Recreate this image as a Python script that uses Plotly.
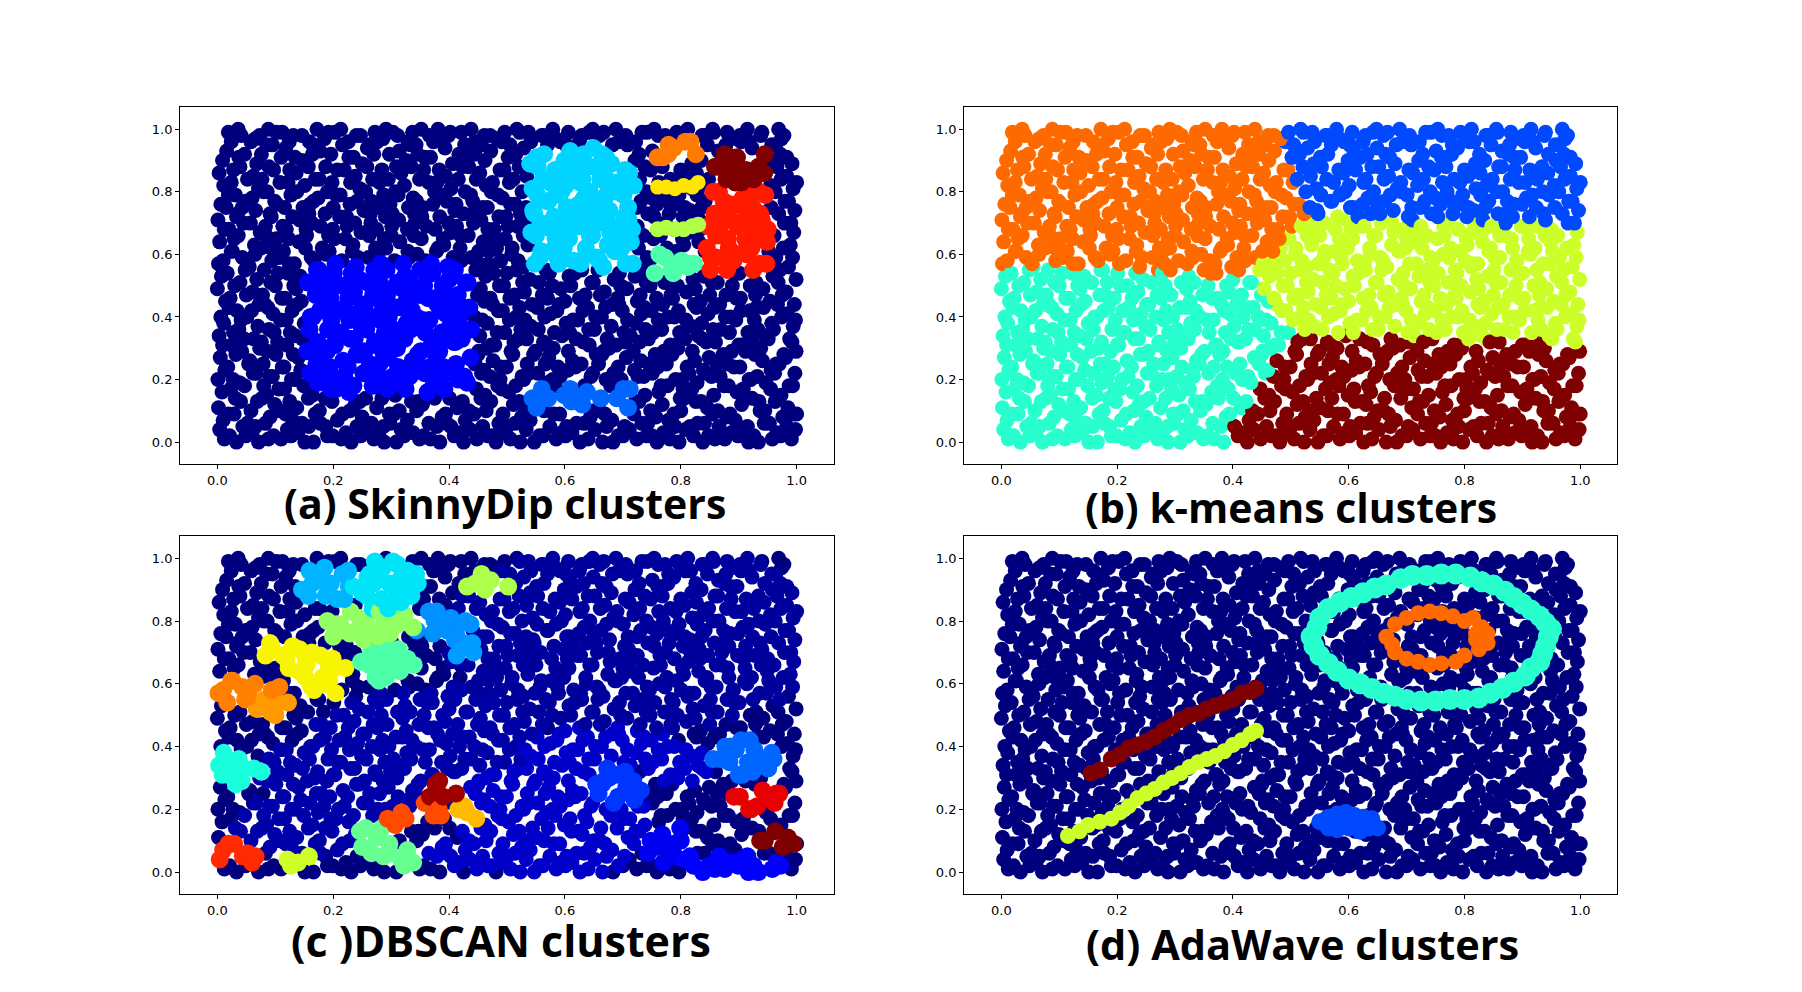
import plotly.graph_objects as go

# shared sample, x in thousandths and y in hundredths, one list per row
x_rows = [
    [12,33,49,71,88,110,127,151,166,190,214,231,247,270,288,309,322,349,368,384,409,425,448,467,481,506,523,547,562,585,601,626,640,665,683,700,724,741,759,781,797,822,838,859,876,899,917,934,958,972,991],
    [4,21,44,60,83,97,121,139,158,178,199,222,241,258,279,298,317,338,356,379,396,417,436,458,474,495,514,533,556,574,594,612,633,652,672,692,711,733,750,770,790,808,829,848,866,887,907,926,944,966,983,998],
    [10,29,52,66,91,108,130,146,169,187,207,229,250,266,287,305,328,344,365,388,403,428,443,464,486,501,525,540,564,581,603,620,644,660,681,703,719,743,757,779,800,816,841,855,879,894,915,937,953,976,995],
    [2,19,40,58,77,99,118,137,157,176,198,216,238,256,275,297,314,335,354,375,394,414,434,455,472,493,511,532,551,571,591,611,630,650,669,690,709,728,748,768,788,806,826,846,864,885,905,923,945,963,985,1000],
    [8,31,47,69,85,106,125,149,164,186,205,227,246,268,284,307,325,347,363,386,401,423,447,462,484,503,521,544,560,583,599,623,638,662,679,701,722,738,762,777,799,819,835,857,875,897,913,935,955,973,993],
    [1,23,38,62,80,95,116,134,160,174,196,219,235,259,277,294,318,332,358,373,392,416,431,456,470,491,515,529,553,568,592,609,634,648,671,687,712,726,751,766,791,804,828,843,868,882,908,921,947,962,987],
    [13,27,54,67,90,112,128,144,171,184,209,225,252,263,290,303,330,342,367,382,405,426,445,460,488,499,526,538,566,579,605,618,645,658,684,697,720,736,760,775,802,814,839,853,881,892,918,932,956,970,997],
    [5,18,42,56,79,101,115,140,155,179,194,217,240,254,280,295,312,337,351,377,390,412,437,451,476,490,510,535,549,572,588,613,628,654,667,692,706,731,745,771,785,811,824,849,862,888,902,928,941,965,981,999],
    [9,32,46,73,86,104,131,147,168,189,203,230,244,272,286,310,323,346,370,383,408,422,450,465,479,507,520,546,563,580,606,619,642,664,676,704,718,744,756,782,795,820,837,860,873,900,912,938,951,978,992],
    [3,25,37,63,76,98,120,135,159,173,200,213,237,257,274,299,316,334,359,372,397,411,438,453,473,496,512,534,554,569,595,608,632,651,673,688,713,729,752,767,792,807,830,844,869,884,906,924,946,960,988],
    [11,28,51,70,89,109,126,150,165,191,208,228,249,267,289,304,327,343,366,387,402,427,444,466,483,504,524,541,565,582,602,622,641,663,680,702,723,739,761,778,798,818,836,856,877,895,916,933,957,974,994],
    [6,20,41,59,82,96,119,138,161,177,197,220,242,255,281,296,319,336,355,380,395,418,435,457,475,492,516,531,552,575,590,614,631,653,670,693,708,732,749,769,789,809,827,847,867,886,904,927,943,967,984,998],
    [14,34,50,72,87,111,129,145,170,185,210,226,251,269,285,308,326,348,364,385,406,424,449,461,485,505,522,543,561,586,600,625,639,661,682,699,725,737,758,783,796,823,834,858,878,896,919,931,954,975,996],
    [0,22,39,61,78,100,117,136,156,180,195,218,236,260,276,293,320,333,357,374,393,415,432,454,471,494,513,530,555,570,593,610,635,649,668,691,707,730,747,772,786,810,825,850,863,889,903,929,942,968,982],
    [7,30,48,68,92,105,132,143,172,183,206,232,245,271,283,311,324,350,362,389,400,429,446,463,487,500,527,539,567,578,607,617,646,657,685,696,721,740,755,784,794,821,840,854,880,893,920,930,959,971,999],
    [2,17,43,55,81,94,122,133,162,175,201,215,239,261,278,292,321,331,360,371,398,410,439,452,477,489,517,528,557,573,589,615,629,655,666,694,705,734,746,773,787,812,823,851,861,890,901,925,948,964,986],
    [10,26,53,65,93,107,124,152,167,188,204,233,243,273,282,306,329,345,369,381,407,421,451,468,482,508,519,548,559,587,598,627,637,659,686,698,717,742,763,776,801,815,842,852,883,891,914,936,952,977,993],
    [4,24,36,64,75,102,114,141,154,181,193,221,234,262,279,291,315,339,352,378,391,419,433,459,469,497,509,536,550,576,596,607,636,647,674,689,714,727,753,765,793,805,831,845,870,881,910,922,949,961,989],
    [12,29,45,74,84,113,123,153,163,192,202,224,248,265,288,300,328,341,361,390,404,420,442,467,480,502,528,542,558,584,604,621,643,656,678,700,716,735,764,774,803,813,833,861,871,898,911,939,950,979,995],
    [1,20,35,57,83,93,119,142,158,178,199,223,237,264,275,301,313,340,353,376,399,413,440,455,478,498,518,537,547,577,597,616,627,654,675,695,710,725,754,780,789,817,832,847,872,883,909,928,940,969,990],
    [15,33,49,66,91,103,130,148,166,186,211,229,253,266,290,302,330,344,372,384,410,425,441,466,486,506,523,545,569,581,603,624,638,662,677,703,724,743,759,777,804,816,836,858,874,899,912,937,956,980,997],
    [6,19,43,60,80,99,116,137,160,174,200,212,241,256,277,298,312,338,354,375,396,412,437,458,473,492,514,533,552,571,594,608,633,650,672,691,709,731,750,770,790,807,828,842,866,885,907,924,946,963,986],
    [11,31,52,71,86,108,127,151,169,190,205,230,246,268,287,307,323,349,365,386,403,428,447,464,484,504,526,544,562,585,601,626,643,661,684,701,719,741,762,782,797,820,838,856,879,894,917,935,955,973,994],
    [3,24,39,62,77,97,122,136,157,176,198,219,238,258,280,295,317,335,356,379,394,416,434,453,475,495,511,534,553,574,591,612,630,652,669,690,711,729,748,768,792,806,827,848,864,887,905,926,944,966,983,1000],
    [9,28,47,68,89,110,125,146,164,187,207,227,250,270,284,309,326,346,368,383,406,423,445,462,488,502,521,540,564,583,599,620,640,664,680,704,721,738,760,778,800,819,835,859,876,897,913,934,958,972,992],
    [16,37,58,76,95,118,134,159,177,196,216,235,259,276,297,314,334,358,373,393,417,431,456,472,491,515,529,551,570,592,609,632,649,671,693,708,728,751,769,788,808,826,846,865,886,904,923,945,964,983],
    [24,41,66,85,102,124,146,165,185,203,226,247,263,286,303,329,343,366,385,402,427,444,461,483,505,522,541,563,584,602,625,642,660,682,700,722,742,761,779,801,817,837,857,878,896,918,938,957,974],
    [19,36,73,88,112,131,172,192,213,240,272,291,311,337,352,381,399,421,438,471,496,517,537,560,579,606,629,648,667,688,705,733,754,773,793,812,840,855,880,902,915,940,969,978],
]
y_rows = [
    [1,0,2,0,1,1,2,0,0,2,1,0,2,1,0,0,2,1,1,0,2,0,1,2,0,1,0,0,2,1,2,0,1,0,0,2,1,2,0,1,0,2,0,1,1,2,0,0,1,2,1,0,2,1,0,1],
    [4,2,5,3,6,2,4,3,5,6,2,3,5,4,2,6,4,3,2,5,6,3,4,5,2,3,6,4,2,5,3,3,6,4,5,2,4,6,2,3,5,4,6,2,5,3,4,2,6,3,5,4,2,3,6,4],
    [7,9,6,5,8,10,7,6,9,5,7,10,8,6,5,9,7,10,6,8,5,7,9,10,6,5,8,7,10,9,5,6,8,10,7,5,9,6,8,7,10,5,6,9,8,7,5,10,6,8,9,7,5,6,10,8],
    [11,9,13,10,14,12,9,11,14,10,13,9,12,14,11,9,10,13,12,14,9,11,10,14,13,9,12,10,11,14,9,13,12,10,9,14,11,13,10,12,9,14,13,11,10,9,12,14,10,13,11,9,12,10,14,11],
    [16,14,18,13,15,17,13,18,15,14,17,16,13,18,14,15,17,13,16,18,14,13,17,15,18,16,13,14,17,18,15,13,16,14,18,17,13,15,16,18,14,17,13,15,18,16,14,13,17,15,18,14,16,13,17,15],
    [20,17,19,22,18,21,17,20,22,19,17,21,18,22,20,17,19,21,22,18,17,20,19,22,21,17,18,20,22,19,21,17,18,22,20,19,17,21,22,18,20,17,19,22,21,18,17,20,19,22,18,21,17,20,22,19],
    [23,20,25,22,21,24,20,23,25,21,20,24,22,25,20,21,23,25,24,20,22,21,25,23,20,24,21,22,25,20,23,24,21,25,22,20,23,21,24,25,20,22,23,21,25,24,20,21,23,25,22,20,24,21,23,25],
    [27,24,29,26,25,28,24,27,29,25,24,26,28,29,25,27,24,26,29,28,24,25,27,29,26,24,28,25,29,27,24,26,25,28,29,24,27,26,25,29,28,24,26,27,25,29,24,28,26,25,27,29,24,26,28,25],
    [31,28,33,30,29,32,28,33,30,29,31,33,28,32,29,30,33,28,31,29,32,33,28,30,31,29,33,28,32,30,29,33,31,28,30,32,29,33,28,31,30,29,33,32,28,31,29,30,33,28,32,29,31,30,33,28],
    [34,31,36,33,32,35,31,34,36,32,31,35,33,36,31,32,34,36,35,31,33,32,36,34,31,35,32,33,36,31,34,35,32,36,33,31,34,32,35,36,31,33,34,32,36,35,31,32,34,36,33,31,35,32,34,36],
    [38,35,40,37,36,39,35,38,40,36,35,39,37,40,35,36,38,40,39,35,37,36,40,38,35,39,36,37,40,35,38,39,36,40,37,35,38,36,39,40,35,37,38,36,40,39,35,36,38,40,37,35,39,36,38,40],
    [40,43,39,42,44,41,39,44,40,42,39,43,41,44,39,40,43,42,39,44,41,40,43,39,44,42,40,39,43,41,44,39,42,40,43,44,39,41,42,44,40,39,43,41,44,40,42,39,43,44,41,39,40,42,44,43],
    [45,42,47,44,43,46,42,45,47,43,42,46,44,47,42,43,45,47,46,42,44,43,47,45,42,46,43,44,47,42,45,46,43,47,44,42,45,43,46,47,42,44,45,43,47,46,42,43,45,47,44,42,46,43,45,47],
    [49,46,51,48,47,50,46,49,51,47,46,50,48,51,46,47,49,51,50,46,48,47,51,49,46,50,47,48,51,46,49,50,47,51,48,46,49,47,50,51,46,48,49,47,51,50,46,47,49,51,48,46,50,47,49,51],
    [53,50,55,52,51,54,50,53,55,51,50,54,52,55,50,51,53,55,54,50,52,51,55,53,50,54,51,52,55,50,53,54,51,55,52,50,53,51,54,55,50,52,53,51,55,54,50,51,53,55,52,50,54,51,53,55],
    [57,54,59,56,55,58,54,57,59,55,54,58,56,59,54,55,57,59,58,54,56,55,59,57,54,58,55,56,59,54,57,58,55,59,56,54,57,55,58,59,54,56,57,55,59,58,54,55,57,59,56,54,58,55,57,59],
    [58,61,57,60,62,59,57,62,58,60,57,61,59,62,57,58,61,60,57,62,59,58,61,57,62,60,58,57,61,59,62,57,60,58,61,62,57,59,60,62,58,57,61,59,62,58,60,57,61,62,59,57,58,60,62,61],
    [64,61,66,63,62,65,61,64,66,62,61,65,63,66,61,62,64,66,65,61,63,62,66,64,61,65,62,63,66,61,64,65,62,66,63,61,64,62,65,66,61,63,64,62,66,65,61,62,64,66,63,61,65,62,64,66],
    [68,65,70,67,66,69,65,68,70,66,65,69,67,70,65,66,68,70,69,65,67,66,70,68,65,69,66,67,70,65,68,69,66,70,67,65,68,66,69,70,65,67,68,66,70,69,65,66,68,70,67,65,69,66,68,70],
    [71,68,73,70,69,72,68,71,73,69,68,72,70,73,68,69,71,73,72,68,70,69,73,71,68,72,69,70,73,68,71,72,69,73,70,68,71,69,72,73,68,70,71,69,73,72,68,69,71,73,70,68,72,69,71,73],
    [75,72,77,74,73,76,72,75,77,73,72,76,74,77,72,73,75,77,76,72,74,73,77,75,72,76,73,74,77,72,75,76,73,77,74,72,75,73,76,77,72,74,75,73,77,76,72,73,75,77,74,72,76,73,75,77],
    [76,79,75,78,80,77,75,80,76,78,75,79,77,80,75,76,79,78,75,80,77,76,79,75,80,78,76,75,79,77,80,75,78,76,79,80,75,77,78,80,76,75,79,77,80,76,78,75,79,80,77,75,76,78,80,79],
    [82,79,84,81,80,83,79,82,84,80,79,83,81,84,79,80,82,84,83,79,81,80,84,82,79,83,80,81,84,79,82,83,80,84,81,79,82,80,83,84,79,81,82,80,84,83,79,80,82,84,81,79,83,80,82,84],
    [86,83,88,85,84,87,83,86,88,84,83,87,85,88,83,84,86,88,87,83,85,84,88,86,83,87,84,85,88,83,86,87,84,88,85,83,86,84,87,88,83,85,86,84,88,87,83,84,86,88,85,83,87,84,86,88],
    [90,87,92,89,88,91,87,90,92,88,87,91,89,92,87,88,90,92,91,87,89,88,92,90,87,91,88,89,92,87,90,91,88,92,89,87,90,88,91,92,87,89,90,88,92,91,87,88,90,92,89,87,91,88,90,92],
    [93,91,96,92,95,94,91,96,93,92,95,91,94,96,92,93,95,91,96,94,92,91,95,93,96,92,94,91,95,96,93,92,94,91,96,95,92,93,91,94,96,92,95,93,91,96,94,92,95,91,93,96,92,94,91,95],
    [96,98,97,95,99,96,98,95,97,99,96,98,95,97,99,96,95,98,97,99,95,96,98,97,95,99,96,98,97,95,96,99,98,95,97,96,99,98,95,97,96,98,99,95,97,96,98,95,97,99,96,98,95,97,96,98],
    [99,100,98,100,99,98,100,99,100,98,99,100,98,99,100,100,98,99,100,98,99,100,99,98,100,99,98,100,99,100,98,99,100,98,99,100,98,100,99,98,100,99,100,98,99,100,98,99,100,98,99,100,99,98,100,99],
]

xs, ys = [], []
for xr, yr in zip(x_rows, y_rows):
    for a, b in zip(xr, yr):
        xs.append(a / 1000)
        ys.append(b / 100)

NAVY = "#00007f"
# the wide DBSCAN regions keep the small marker
WIDE_BLUES = ["#00009c", "#0000a8", "#0000c8"]

# (a) SkinnyDip: x0, x1, y0, y1, colour
boxes_a = [
    (0.155, 0.44, 0.16, 0.575, "#0000ff"),
    (0.54, 0.72, 0.105, 0.175, "#0066ff"),
    (0.54, 0.72, 0.555, 0.945, "#00d4ff"),
    (0.76, 0.83, 0.90, 0.96, "#ff7a00"),
    (0.755, 0.825, 0.53, 0.60, "#4dffaa"),
    (0.845, 0.95, 0.545, 0.80, "#ff1a00"),
    (0.85, 0.95, 0.83, 0.925, "#7f0000"),
]
yellow_x = [0.76, 0.775, 0.79, 0.805, 0.82, 0.83]
yellow_y = [0.815, 0.815, 0.81, 0.82, 0.815, 0.83]
lime_x = [0.76, 0.775, 0.79, 0.805, 0.82, 0.83]
lime_y = [0.68, 0.685, 0.68, 0.68, 0.69, 0.695]

# (b) k-means centres
centres_b = [
    (0.24, 0.79, "#ff6a00"),
    (0.78, 0.88, "#0049ff"),
    (0.75, 0.53, "#ccff29"),
    (0.20, 0.31, "#29ffce"),
    (0.72, 0.14, "#7f0000"),
]

# (c) DBSCAN: cx, cy, rx, ry, colour, first match wins
blobs_c = [
    (0.03, 0.33, 0.05, 0.055, "#19ffde"),
    (0.09, 0.515, 0.04, 0.045, "#ff9a00"),
    (0.05, 0.57, 0.065, 0.05, "#ff7f00"),
    (0.17, 0.64, 0.055, 0.09, "#f8f500"),
    (0.11, 0.70, 0.04, 0.035, "#f8f500"),
    (0.29, 0.665, 0.05, 0.06, "#4dffa8"),
    (0.26, 0.785, 0.085, 0.055, "#94ff62"),
    (0.295, 0.91, 0.06, 0.09, "#00e4f8"),
    (0.19, 0.915, 0.045, 0.075, "#00b4ff"),
    (0.39, 0.79, 0.05, 0.055, "#0090ff"),
    (0.43, 0.71, 0.025, 0.03, "#009cff"),
    (0.47, 0.92, 0.045, 0.045, "#adff49"),
    (0.685, 0.275, 0.05, 0.065, "#0035ff"),
    (0.91, 0.365, 0.06, 0.065, "#0066ff"),
    (0.94, 0.23, 0.055, 0.04, "#e60000"),
    (0.39, 0.255, 0.028, 0.04, "#9e0000"),
    (0.43, 0.19, 0.032, 0.04, "#ffbb00"),
    (0.365, 0.20, 0.032, 0.035, "#ff4a00"),
    (0.325, 0.17, 0.032, 0.032, "#ff4a00"),
    (0.27, 0.10, 0.033, 0.05, "#66ff90"),
    (0.31, 0.04, 0.033, 0.04, "#66ff90"),
    (0.135, 0.03, 0.03, 0.032, "#d0ff27"),
    (0.025, 0.06, 0.032, 0.035, "#ff2a00"),
    (0.06, 0.04, 0.02, 0.02, "#ff2a00"),
    (0.965, 0.10, 0.032, 0.035, "#7f0000"),
    (0.775, 0.085, 0.04, 0.07, "#0000f0"),
    (0.88, 0.025, 0.105, 0.035, "#0000ff"),
    (0.58, 0.17, 0.17, 0.20, "#0000c8"),
    (0.45, 0.055, 0.11, 0.05, "#0000c8"),
    (0.66, 0.40, 0.14, 0.065, "#0000c8"),
    (0.80, 0.34, 0.06, 0.06, "#0000c8"),
    (0.72, 0.75, 0.33, 0.31, "#00009c"),
    (0.15, 0.15, 0.12, 0.10, "#0000a8"),
    (0.25, 0.30, 0.18, 0.15, "#0000a8"),
    (0.35, 0.42, 0.20, 0.16, "#0000a8"),
    (0.45, 0.50, 0.12, 0.12, "#0000a8"),
]

# (d) AdaWave: outer ring, inner ring, two lines and a blob
ring_x = [0.69,0.71,0.735,0.76,0.785,0.81,0.83,0.85,0.87,0.885,0.90,0.915,0.93,0.94,0.95,0.945,0.94,0.935,0.93,0.915,0.905,0.885,0.865,0.845,0.825,0.80,0.775,0.75,0.725,0.70,0.68,0.66,0.64,0.62,0.60,0.58,0.565,0.55,0.54,0.535,0.545,0.55,0.565,0.585,0.605,0.625,0.645,0.665]
ring_y = [0.935,0.945,0.945,0.95,0.95,0.94,0.925,0.915,0.895,0.875,0.855,0.835,0.815,0.795,0.775,0.75,0.72,0.695,0.67,0.65,0.625,0.605,0.585,0.57,0.555,0.55,0.55,0.545,0.545,0.55,0.56,0.57,0.585,0.60,0.615,0.64,0.665,0.69,0.72,0.75,0.78,0.81,0.84,0.86,0.875,0.89,0.905,0.915]
inner_x = [0.665,0.68,0.70,0.72,0.74,0.76,0.78,0.80,0.815,0.83,0.84,0.84,0.825,0.80,0.785,0.76,0.74,0.72,0.70,0.68,0.675,0.82,0.82]
inner_y = [0.75,0.79,0.81,0.825,0.83,0.825,0.815,0.80,0.81,0.78,0.76,0.73,0.71,0.69,0.67,0.665,0.66,0.67,0.68,0.70,0.725,0.74,0.76]
maroon_x = [0.155,0.17,0.19,0.205,0.22,0.235,0.25,0.265,0.28,0.295,0.31,0.325,0.34,0.355,0.37,0.385,0.40,0.415,0.43,0.44]
maroon_y = [0.315,0.325,0.36,0.375,0.395,0.405,0.415,0.43,0.45,0.465,0.485,0.50,0.505,0.52,0.53,0.54,0.55,0.57,0.575,0.585]
lime_line_x = [0.115,0.135,0.15,0.17,0.19,0.205,0.22,0.235,0.25,0.265,0.28,0.295,0.31,0.325,0.34,0.355,0.37,0.385,0.40,0.415,0.43,0.44]
lime_line_y = [0.115,0.13,0.15,0.16,0.17,0.19,0.21,0.235,0.25,0.265,0.285,0.30,0.315,0.335,0.35,0.36,0.37,0.385,0.405,0.42,0.44,0.45]
blob_x = [0.55,0.565,0.58,0.595,0.61,0.625,0.64,0.65,0.565,0.58,0.60,0.62,0.635,0.59,0.61]
blob_y = [0.16,0.175,0.185,0.19,0.18,0.175,0.17,0.14,0.14,0.135,0.14,0.13,0.14,0.16,0.16]

tick_vals = [0.0, 0.2, 0.4, 0.6, 0.8, 1.0]
titles = ["(a) SkinnyDip clusters", "(b) k-means clusters", "(c )DBSCAN clusters", "(d) AdaWave clusters"]
title_sizes = [41, 41, 43, 41.5]


def nearest(cx_list, px, py):
    return min(cx_list, key=lambda c: (c[0] - px) ** 2 + (c[1] - py) ** 2)[2]


def in_box(px, py):
    for x0, x1, y0, y1, col in boxes_a:
        if x0 <= px <= x1 and y0 <= py <= y1:
            return col
    return NAVY


def in_blob(px, py):
    for cx, cy, rx, ry, col in blobs_c:
        if ((px - cx) / rx) ** 2 + ((py - cy) / ry) ** 2 <= 1:
            return col
    return NAVY


W, H = 1802, 992
boxes = [(180.3, 833.7, 107, 464), (964.3, 1617.3, 107, 464), (180.3, 833.7, 536, 894), (964.3, 1617.3, 536, 894)]
title_pos = [(505, 503), (1291, 507), (501, 940), (1302, 944)]

fig = go.Figure()


def add(panel, x, y, color, size=15):
    suffix = "" if panel == 0 else str(panel + 1)
    fig.add_trace(go.Scatter(x=x, y=y, mode="markers", xaxis="x" + suffix, yaxis="y" + suffix,
                             marker=dict(size=size, color=color, opacity=1, line=dict(width=0)),
                             hoverinfo="skip", showlegend=False))


colour_funcs = [in_box, lambda a, b: nearest(centres_b, a, b), in_blob, lambda a, b: NAVY]
big_clusters = [True, False, True, False]
for p, func in enumerate(colour_funcs):
    cols = [func(a, b) for a, b in zip(xs, ys)]
    # navy and the wide blues go under the coloured clusters
    order = sorted(range(len(xs)), key=lambda i: (cols[i] != NAVY, cols[i] not in WIDE_BLUES))
    sizes = 15
    if big_clusters[p]:
        sizes = [15 if cols[i] == NAVY or cols[i] in WIDE_BLUES else 18 for i in order]
    add(p, [xs[i] for i in order], [ys[i] for i in order], [cols[i] for i in order], sizes)

add(0, yellow_x, yellow_y, "#ffe500", 15)
add(0, lime_x, lime_y, "#b0ff46", 16)
add(3, ring_x, ring_y, "#29ffce", 21)
add(3, inner_x, inner_y, "#ff6a00", 16)
add(3, maroon_x, maroon_y, "#7f0000", 17)
add(3, lime_line_x, lime_line_y, "#ccff29", 16)
add(3, blob_x, blob_y, "#0049ff", 17)

layout = dict(width=W, height=H, margin=dict(l=0, r=0, t=0, b=0), paper_bgcolor="white",
              plot_bgcolor="white", showlegend=False)
for i, (l, r, t, b) in enumerate(boxes):
    s = "" if i == 0 else str(i + 1)
    common = dict(showgrid=False, zeroline=False, showline=True, mirror=True, linecolor="black", linewidth=1.4,
                  ticks="outside", ticklen=4, tickwidth=1, tickcolor="black", tickvals=tick_vals,
                  ticktext=["%.1f" % v for v in tick_vals],
                  tickfont=dict(family="DejaVu Sans", size=13, color="black"))
    layout["xaxis" + s] = dict(common, domain=[l / W, r / W], range=[-0.064, 1.064], anchor="y" + s)
    layout["yaxis" + s] = dict(common, domain=[1 - b / H, 1 - t / H], range=[-0.07, 1.071], anchor="x" + s)
fig.update_layout(**layout)

for text, (tx, ty), fs in zip(titles, title_pos, title_sizes):
    fig.add_annotation(text="<b>" + text + "</b>", x=tx / W, y=1 - ty / H, xref="paper", yref="paper",
                       showarrow=False, xanchor="center", yanchor="middle",
                       font=dict(family="Open Sans", size=fs, color="black"))

fig.write_html("out.html", config=dict(displayModeBar=False),
               post_script="document.body.style.margin='0';document.body.style.overflow='hidden';")
